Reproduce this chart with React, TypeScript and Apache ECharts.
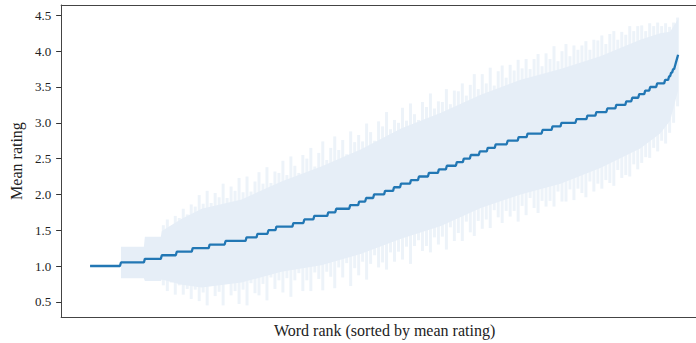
import React, { useEffect, useRef } from "react";
import * as echarts from "echarts";

// Distinct mean-rating levels (ratings come in steps of 0.05)
const levels = [
  1.0, 1.05, 1.1, 1.15, 1.2, 1.25, 1.3, 1.35, 1.4, 1.45,
  1.5, 1.55, 1.6, 1.65, 1.7, 1.75, 1.8, 1.85, 1.9, 1.95,
  2.0, 2.05, 2.1, 2.15, 2.2, 2.25, 2.3, 2.35, 2.4, 2.45,
  2.5, 2.55, 2.6, 2.65, 2.7, 2.75, 2.8, 2.85, 2.9, 2.95,
  3.0, 3.05, 3.1, 3.15, 3.2, 3.25, 3.3, 3.35, 3.4, 3.45,
  3.5, 3.55, 3.6, 3.65, 3.7, 3.75, 3.8, 3.85, 3.9, 3.95,
];

// Number of words sharing each mean level (in rank order)
const levelCounts = [
  31, 24, 17, 15, 16, 17, 16, 21, 11, 11,
  8, 17, 11, 10, 14, 8, 14, 9, 7, 8,
  11, 9, 7, 10, 8, 10, 10, 8, 10, 7,
  7, 9, 8, 8, 12, 11, 9, 15, 10, 9,
  15, 11, 9, 11, 9, 10, 6, 7, 6, 5,
  7, 8, 4, 2, 2, 2, 1, 1, 1, 1,
];

// Typical spread (std) of ratings along the rank axis
const coreRanks = [31, 54, 55, 71, 72, 92, 112, 152, 192, 232, 272, 312, 352, 392, 432, 472, 512, 552, 572, 582, 590];
const coreStd = [0.22, 0.22, 0.31, 0.31, 0.34, 0.46, 0.55, 0.58, 0.63, 0.69, 0.73, 0.77, 0.79, 0.79, 0.8, 0.8, 0.78, 0.76, 0.7, 0.62, 0.5];

// Per-word std for sampled ranks (every spikeStep words from spikeStart)
const spikeStart = 72;
const spikeStep = 4;
const spikeStd = [
  0.42, 0.5, 0.38, 0.55, 0.47, 0.6, 0.52, 0.66, 0.58, 0.74,
  0.62, 0.8, 0.58, 0.72, 0.66, 0.85, 0.6, 0.76, 0.7, 0.88,
  0.68, 0.9, 0.64, 0.78, 0.86, 0.7, 0.93, 0.66, 0.82, 0.75,
  0.92, 0.72, 0.98, 0.8, 0.7, 0.95, 0.85, 1.0, 0.74, 0.88,
  1.04, 0.78, 0.9, 1.06, 0.82, 0.96, 0.76, 1.08, 0.88, 0.98,
  0.84, 1.09, 0.92, 0.8, 1.02, 0.95, 1.1, 0.86, 0.99, 0.9,
  1.06, 0.88, 1.12, 0.92, 0.84, 1.04, 0.97, 1.11, 0.9, 1.0,
  0.94, 1.12, 0.86, 1.05, 0.99, 1.1, 0.88, 1.03, 1.13, 0.92,
  1.08, 0.95, 1.12, 0.87, 1.02, 1.1, 0.93, 1.06, 0.98, 1.13,
  0.96, 1.09, 0.9, 1.04, 1.11, 0.94, 1.07, 0.99, 1.12, 0.91,
  1.05, 1.1, 0.93, 1.08, 0.97, 1.03, 1.09, 0.92, 1.06, 1.0,
  1.07, 0.95, 1.04, 1.08, 0.91, 1.02, 0.98, 1.05, 0.93, 1.0,
  0.96, 0.88, 0.94, 0.85, 0.9, 0.8, 0.84, 0.74, 0.7, 0.62,
];

const yTicks = [0.5, 1.0, 1.5, 2.0, 2.5, 3.0, 3.5, 4.0, 4.5];

const lineColor = "#2277b4";
const coreColor = "#e6eef7";
const spikeColor = "#edf3f9";
const spineColor = "#444";
const fontFamily = "'Liberation Serif', 'DejaVu Serif', serif";

// Expand level counts into one mean value per word rank
const means: number[] = [];
levels.forEach((lv, i) => {
  for (let k = 0; k < levelCounts[i]; k++) means.push(lv);
});
const lineData = means.map((m, r) => [r, m]);
const spikeData = spikeStd.map((s, k) => [spikeStart + k * spikeStep, s]);

export default function App() {
  const ref = useRef<HTMLDivElement>(null);

  useEffect(() => {
    document.body.style.margin = "0";
    document.body.style.overflow = "hidden";
    const chart = echarts.init(ref.current!, null, { renderer: "svg" });
    const spine = { show: true, onZero: false, lineStyle: { color: spineColor, width: 1 } };
    chart.setOption({
      animation: false,
      backgroundColor: "#ffffff",
      grid: { left: 59, right: 12, top: 5, bottom: 26 },
      xAxis: [
        {
          type: "value",
          position: "bottom",
          min: -29,
          max: 620,
          axisLine: spine,
          axisTick: { show: false },
          axisLabel: { show: false },
          splitLine: { show: false },
          name: "Word rank (sorted by mean rating)",
          nameLocation: "middle",
          nameGap: 5,
          nameTextStyle: { fontFamily, fontSize: 16, color: "#222" },
        },
        {
          type: "value",
          position: "top",
          min: -29,
          max: 620,
          axisLine: spine,
          axisTick: { show: false },
          axisLabel: { show: false },
          splitLine: { show: false },
        },
      ],
      yAxis: {
        type: "value",
        min: 0.288,
        max: 4.645,
        axisLine: spine,
        splitLine: { show: false },
        axisTick: {
          show: true,
          length: 5,
          inside: false,
          customValues: yTicks,
          lineStyle: { color: "#333", width: 1 },
        },
        axisLabel: {
          customValues: yTicks,
          formatter: (v: number) => v.toFixed(1),
          fontFamily,
          fontSize: 13,
          color: "#222",
          margin: 10,
        },
        name: "Mean rating",
        nameLocation: "middle",
        nameRotate: 90,
        nameGap: 33,
        nameTextStyle: { fontFamily, fontSize: 16, color: "#222" },
      },
      series: [
        {
          type: "custom",
          clip: true,
          z: 1,
          data: spikeData,
          renderItem: (_p: any, api: any) => {
            const r = api.value(0);
            const s = api.value(1);
            const m = means[r];
            const a = api.coord([r, m + s]);
            const b = api.coord([r + spikeStep, m - s]);
            return {
              type: "rect",
              shape: { x: a[0], y: a[1], width: (b[0] - a[0]) * 0.75, height: b[1] - a[1] },
              style: { fill: spikeColor },
            };
          },
        },
        {
          type: "custom",
          clip: true,
          z: 2,
          data: [[0, 1]],
          renderItem: (_p: any, api: any) => {
            const upper = coreRanks.map((r, i) => api.coord([r, means[r] + coreStd[i]]));
            const lower = coreRanks.map((r, i) => api.coord([r, means[r] - coreStd[i]])).reverse();
            return {
              type: "polygon",
              shape: { points: upper.concat(lower) },
              style: { fill: coreColor },
            };
          },
        },
        {
          type: "line",
          z: 3,
          data: lineData,
          showSymbol: false,
          lineStyle: { color: lineColor, width: 2.3 },
        },
      ],
    });
    return () => chart.dispose();
  }, []);

  return (
    <div
      ref={ref}
      style={{ position: "fixed", left: 0, top: 0, width: 720, height: 343 }}
    />
  );
}
